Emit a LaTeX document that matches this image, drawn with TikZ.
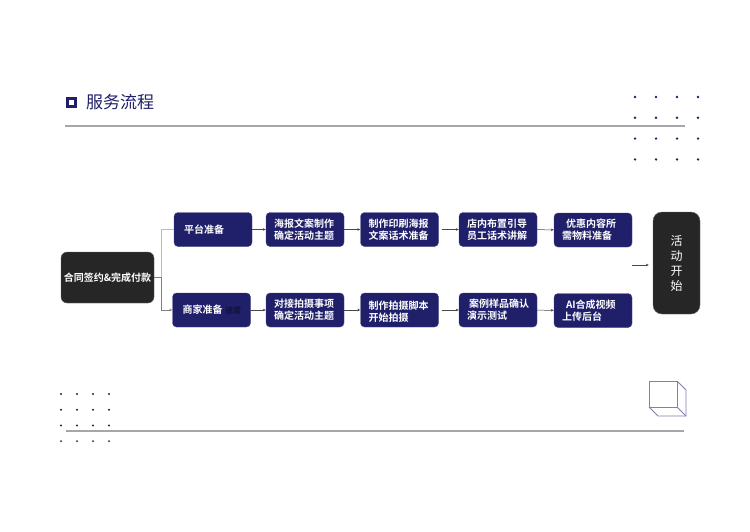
\documentclass[tikz,border=0pt]{standalone}
\usepackage{fontspec}
\setmainfont{Noto Sans CJK SC}[BoldFont={Noto Sans CJK SC Bold}]
\usetikzlibrary{arrows.meta}

\definecolor{navy}{HTML}{1F1F6A}
\definecolor{dark}{HTML}{262626}
\definecolor{rule}{HTML}{A6A6A6}
\definecolor{linkblue}{HTML}{9DC3E6}
\definecolor{cubeline}{HTML}{7F7FB0}

\tikzset{
  stepbox/.style={fill=navy,draw=navy!80!white,rounded corners=4pt,
    text=white,font=\fontsize{10}{12}\selectfont\bfseries,
    text width=62pt,inner xsep=8pt,inner ysep=0pt,
    minimum height=34pt,align=left},
  prepbox/.style={stepbox,text width=58pt,inner xsep=10pt},
  blackbox/.style={fill=dark,draw=dark!70!white,rounded corners=6pt,
    text=white,align=center,inner sep=0pt},
  arr/.style={draw=dark!85!white,line width=0.5pt,
    -{Stealth[length=3pt,width=2.6pt]}},
  dot/.style={fill=navy,draw=none}
}

\begin{document}
\begin{tikzpicture}[x=1pt,y=-1pt]
  \useasboundingbox[fill=white] (0,0) rectangle (750,531);

  % Title
  \draw[navy,line width=2.6pt] (67.3,98.3) rectangle (75.7,106.7);
  \node[anchor=west,text=navy,font=\fontsize{17}{20}\selectfont,inner sep=0pt]
    (title) at (86,102.5) {服务流程};
  \draw[rule,line width=2pt] (65,126) -- (685,126);

  % Dots, top right
  \foreach \i in {0,...,3}
    \foreach \j in {0,...,3}
      \fill[dot] (635+21*\i,97+20.8*\j) circle (1.35pt);

  % Dots, bottom left
  \foreach \i in {0,...,3}
    \foreach \j in {0,...,3}
      \fill[dot] (61+16*\i,394+15.7*\j) circle (1.1pt);

  % Bottom rule and cube
  \draw[rule,line width=2pt] (66,431) -- (684,431);
  \begin{scope}[cubeline,line width=0.8pt]
    \draw (649,381) rectangle (677,407);
    \draw (677,381) -- (686,390) -- (686,416) -- (658,416) -- (649,407);
    \draw (677,407) -- (686,416);
  \end{scope}

  % Start and end
  \node[blackbox,minimum width=93pt,minimum height=51pt,
    font=\fontsize{10}{12}\selectfont\bfseries] (contract) at (107.5,277.5)
    {合同签约\&完成付款};
  \node[blackbox,minimum width=47pt,minimum height=102pt,rounded corners=9pt,
    font=\fontsize{12}{15}\selectfont] (launch) at (676.5,263)
    {活\\动\\开\\始};

  % Top row: platform
  \node[prepbox] (plat) at (213,229.5) {平台准备};
  \node[stepbox] (poster) at (305,229.5) {海报文案制作\\确定活动主题};
  \node[stepbox] (print) at (399.5,229.5) {制作印刷海报\\文案话术准备};
  \node[stepbox] (store) at (498,229.5) {店内布置引导\\员工话术讲解};
  \node[stepbox] (promo) at (593,230) {\hspace{4pt}优惠内容所\\需物料准备};

  % Bottom row: merchant
  \node[prepbox] (merch) at (211.5,310) {商家准备};
  \node[text=navy!55!black,font=\fontsize{8}{10}\selectfont\bfseries,inner sep=0pt]
    (progress) at (233,310.5) {进度};
  \node[stepbox] (shoot) at (305,310) {对接拍摄事项\\确定活动主题};
  \node[stepbox] (script) at (399.5,310) {\hspace{4pt}制作拍摄脚本\\开始拍摄};
  \node[stepbox] (sample) at (498,310) {\hspace{2pt}案例样品确认\\演示测试};
  \node[stepbox] (aivid) at (593,310.5) {\hspace{4pt}AI合成视频\\上传后台};

  % Branches
  \draw[linkblue,line width=0.6pt] (contract.east) -- ++(7,0) |- (plat.west);
  \draw[arr,draw=gray] (contract.east) -- ++(7,0) |- (merch.west);

  % Links
  \draw[arr] (plat) -- (poster);
  \draw[arr] (poster) -- (print);
  \draw[arr,shorten <=3pt] (print) -- (store);
  \draw[arr] (store) -- (promo);
  \draw[arr] (merch) -- (shoot);
  \draw[arr] (shoot) -- (script);
  \draw[arr,shorten <=3pt] (script) -- (sample);
  \draw[arr] (sample) -- (aivid);
  \coordinate (go) at (632,265);
  \draw[arr,shorten >=4pt] (go) -- (launch.west |- go);
\end{tikzpicture}
\end{document}
